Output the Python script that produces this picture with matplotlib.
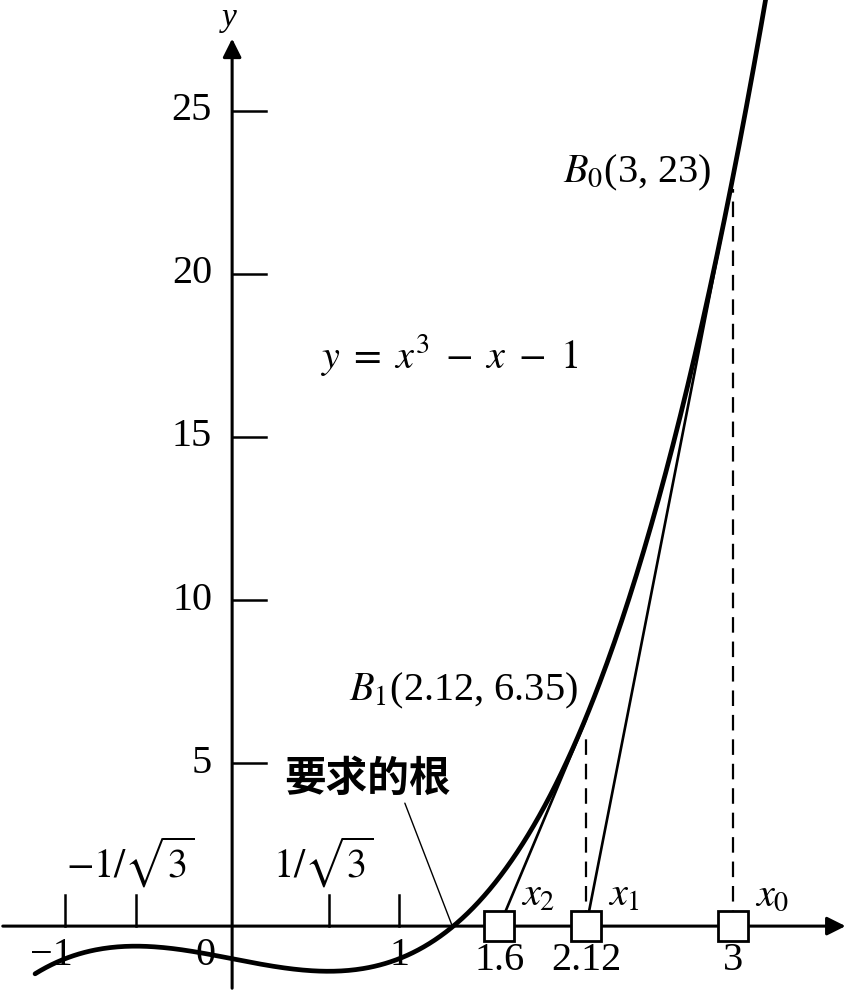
import numpy as np
import matplotlib.pyplot as plt

plt.rcParams['font.family'] = ['Liberation Serif', 'DejaVu Serif']
plt.rcParams['mathtext.fontset'] = 'stix'

# Newton iteration on y = x^3 - x - 1
iter_x = [3, 2.12, 1.6]
iter_y = [23, 6.35]
iter_names = [r"$x_0$", r"$x_1$", r"$x_2$"]
iter_ticklabels = ["3", "2.12", "1.6"]
point_labels = [r"$B_0$(3, 23)", r"$B_1$(2.12, 6.35)"]
root = 1.3247

y_ticks = [5, 10, 15, 20, 25]
x_ticks_up = [-1, -1 / np.sqrt(3), 1 / np.sqrt(3), 1]
x_up_labels = {-1 / np.sqrt(3): r"$-1/\sqrt{3}$", 1 / np.sqrt(3): r"$1/\sqrt{3}$"}
x_down_labels = [(-1.08, "−1"), (-0.16, "0"), (1, "1")]

x_min, x_max = -1.39, 3.70
y_min, y_max = -1.99, 28.4

fig = plt.figure(figsize=(8.5, 9.91), dpi=100)
ax = fig.add_axes([0, 0, 1, 1])
ax.set_xlim(x_min, x_max)
ax.set_ylim(y_min, y_max)
ax.axis("off")

# axes with arrows
ax.annotate("", xy=(x_max - 0.01, 0), xytext=(x_min, 0),
            arrowprops=dict(arrowstyle="-|>", lw=2.2, color="k", mutation_scale=28))
ax.annotate("", xy=(0, 27.3), xytext=(0, y_min),
            arrowprops=dict(arrowstyle="-|>", lw=2.2, color="k", mutation_scale=28))
ax.text(-0.02, 27.85, "y", style="italic", fontsize=24, ha="center", va="center")

# y ticks (to the right of the axis)
for t in y_ticks:
    ax.plot([0, 0.2], [t, t], color="k", lw=1.8)
    ax.text(-0.12, t, str(t), fontsize=29, ha="right", va="center")

# x ticks pointing up
for t in x_ticks_up:
    ax.plot([t, t], [0, 0.95], color="k", lw=1.8)
for t, lab in x_up_labels.items():
    ax.text(t - 0.03, 1.95, lab, fontsize=29, ha="center", va="center")
for t, lab in x_down_labels:
    ax.text(t, -0.9, lab, fontsize=29, ha="center", va="center")

# curve
xs = np.linspace(-1.18, 3.2, 400)
ax.plot(xs, xs**3 - xs - 1, color="k", lw=3.4, solid_capstyle="round", zorder=3)

# tangents and dashed verticals
for i in range(len(iter_y)):
    ax.plot([iter_x[i + 1], iter_x[i]], [0, iter_y[i]], color="k", lw=1.9, zorder=2)
    ax.plot([iter_x[i], iter_x[i]], [0, iter_y[i] - 0.4], color="k", lw=1.6,
            ls=(0, (7, 4)), zorder=2)

# squares on the x axis
ax.plot(iter_x, [0] * len(iter_x), ls="none", marker="s", markersize=21,
        markerfacecolor="white", markeredgecolor="k", markeredgewidth=2, zorder=4)
for x, lab in zip(iter_x, iter_ticklabels):
    ax.text(x, -1.05, lab, fontsize=29, ha="center", va="center")
for x, lab in zip(iter_x, iter_names):
    ax.text(x + 0.13, 0.35, lab, fontsize=29, ha="left", va="bottom")

# point labels
ax.text(2.87, 23.1, point_labels[0], fontsize=29, ha="right", va="center")
ax.text(2.07, 7.2, point_labels[1], fontsize=29, ha="right", va="center")

ax.text(0.53, 17.5, r"$y\;=\;x^3\;-\;x\;-\;1$", fontsize=29, ha="left", va="center")

# root annotation
ax.annotate("要求的根", xy=(root - 0.01, 0.05), xytext=(0.31, 4.5),
            fontsize=30, family=["Noto Sans CJK SC", "DejaVu Sans"], weight="bold",
            ha="left", va="center",
            arrowprops=dict(arrowstyle="-", lw=1.0, color="k",
                            shrinkA=0, shrinkB=0, relpos=(0.72, 0)))

fig.savefig("out.png", dpi=100, facecolor="white")
